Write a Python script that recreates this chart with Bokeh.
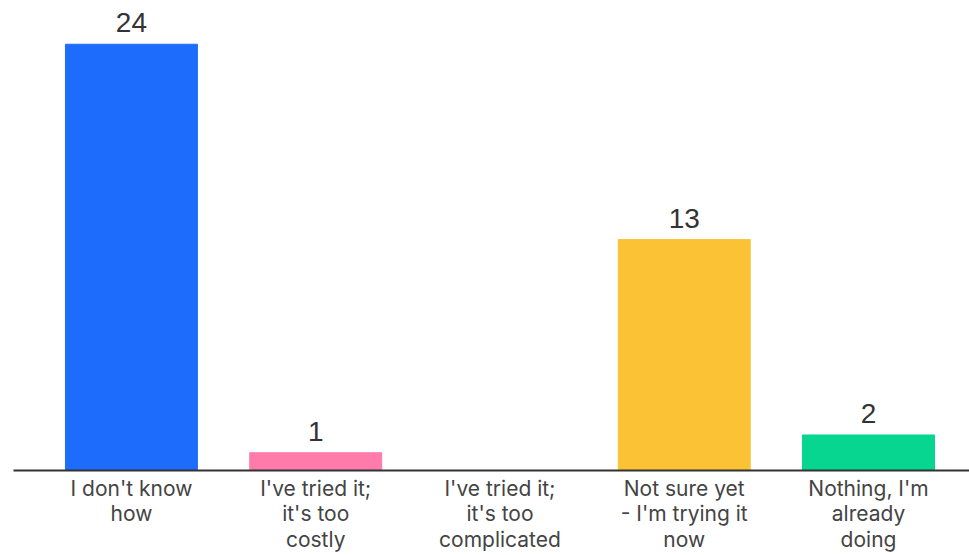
from bokeh.plotting import figure
from bokeh.models import Range1d, FixedTicker, ColumnDataSource
from bokeh.embed import file_html
from bokeh.resources import INLINE
from bokeh.core.properties import value

categories = ["I don't know\nhow", "I've tried it;\nit's too\ncostly", "I've tried it;\nit's too\ncomplicated",
              "Not sure yet\n- I'm trying it\nnow", "Nothing, I'm\nalready\ndoing"]
counts = [24, 1, 0, 13, 2]
colors = ["#1d6cfb", "#ff7ba9", "#fcc236", "#fcc236", "#06d68f"]

xs = list(range(len(categories)))

p = figure(width=969, height=555, output_backend="svg", toolbar_location=None,
           x_range=Range1d(-0.64, 4.548), y_range=Range1d(0, 25.9),
           min_border_left=13, min_border_right=0, min_border_top=10, min_border_bottom=84)

src = ColumnDataSource(dict(x=xs, top=counts, color=colors))
p.vbar(x="x", top="top", bottom=0, width=0.716, color="color", source=src)

lab = ColumnDataSource(dict(x=[x for x, c in zip(xs, counts) if c > 0],
                            y=[c for c in counts if c > 0],
                            t=[str(c) for c in counts if c > 0]))
p.text(x="x", y="y", text="t", source=lab, text_align="center", text_baseline="bottom",
       y_offset=-12, text_font=value("Liberation Sans"), text_font_size="28px", text_color="#333333")

p.yaxis.visible = False
p.xgrid.visible = False
p.ygrid.visible = False
p.outline_line_color = None

ax = p.xaxis[0]
ax.ticker = FixedTicker(ticks=xs)
ax.major_label_overrides = {i: c for i, c in zip(xs, categories)}
ax.axis_line_color = "#333333"
ax.axis_line_width = 2
ax.major_tick_line_color = None
ax.minor_tick_line_color = None
ax.major_tick_out = 0
ax.major_tick_in = 0
ax.major_label_standoff = 5
ax.major_label_text_font = "Inter"
ax.major_label_text_font_size = "21px"
ax.major_label_text_color = "#444444"
ax.major_label_text_line_height = 1.03

open("out.html", "w").write(file_html(p, INLINE))
